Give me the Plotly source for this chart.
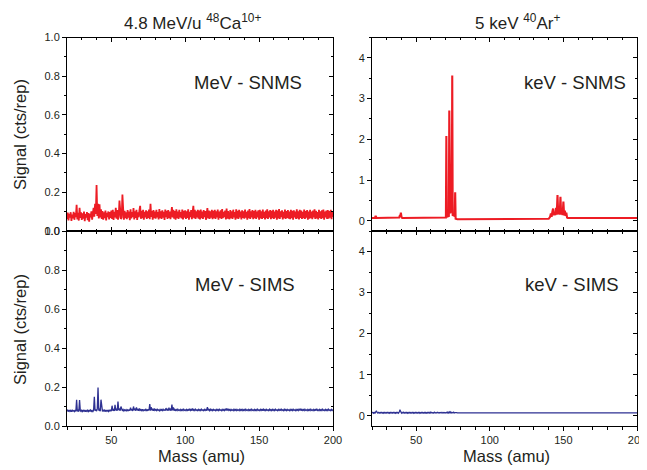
import numpy as np
import plotly.graph_objects as go

# ---------------- data ----------------
# MeV panels: sampled every 0.5 amu starting at 20 amu, values in milli-cts/rep
MASS_START = 20.0
MASS_STEP = 0.5

MEV_SNMS_MILLI = [
    62, 95, 55, 88, 70, 97, 52, 85, 66, 99, 58, 92, 72, 135, 60, 94, 54, 120, 68, 96,
    57, 91, 64, 100, 51, 87, 69, 98, 56, 93, 48, 89, 71, 102, 59, 95, 120, 74, 140, 88,
    238, 78, 140, 65, 138, 70, 112, 62, 103, 58, 97, 66, 106, 55, 94, 72, 101, 60, 98, 68,
    105, 63, 110, 57, 99, 71, 120, 64, 108, 59, 73, 157, 112, 62, 70, 188, 115, 58, 104, 67,
    96, 61, 108, 69, 100, 56, 112, 65, 98, 72, 118, 60, 102, 68, 109, 57, 97, 71, 106, 130,
    63, 104, 66, 110, 59, 99, 70, 107, 62, 101, 68, 111, 61, 140, 73, 103, 58, 108, 67, 100,
    64, 109, 71, 98, 60, 113, 66, 102, 62, 107, 69, 99, 57, 111, 72, 104, 63, 108, 68, 101,
    61, 106, 124, 70, 110, 64, 103, 59, 112, 67, 100, 62, 109, 71, 98, 65, 111, 60, 104, 69,
    107, 63, 102, 68, 112, 58, 99, 72, 108, 61, 103, 130, 66, 110, 62, 101, 70, 109, 64, 105,
    60, 111, 67, 100, 63, 108, 71, 103, 58, 112, 118, 65, 106, 62, 101, 69, 110, 61, 104, 66,
    109, 63, 102, 70, 111, 59, 100, 68, 107, 62, 113, 66, 99, 72, 106, 60, 116, 64, 103, 69,
    61, 108, 67, 101, 63, 110, 70, 98, 59, 112, 65, 104, 62, 109, 71, 100, 60, 107, 68, 102,
    64, 111, 69, 99, 58, 106, 66, 113, 62, 101, 70, 108, 61, 103, 67, 110, 63, 100, 71, 107,
    59, 109, 65, 102, 62, 111, 68, 99, 60, 106, 66, 112, 63, 101, 70, 108, 61, 104, 67, 110,
    62, 100, 69, 109, 59, 105, 65, 113, 63, 102, 71, 107, 60, 99, 66, 111, 62, 103, 68, 108,
    64, 101, 61, 110, 67, 104, 59, 107, 70, 100, 63, 112, 65, 102, 60, 109, 68, 105, 62, 99,
    66, 111, 63, 103, 69, 108, 58, 101, 64, 110, 67, 100, 61, 106, 70, 112, 62, 104, 65, 98,
    60, 109, 68, 102, 63, 107, 66, 111, 59, 100, 71, 105, 62, 108, 64, 103, 69, 110, 61, 101,
    72,
]

MEV_SIMS_MILLI = [
    76, 81, 74, 82, 75, 80, 73, 81, 76, 79, 74, 82, 75, 134, 76, 80, 74, 133, 79, 75,
    81, 74, 80, 76, 82, 73, 79, 75, 81, 74, 80, 76, 82, 75, 79, 74, 81, 150, 78, 85,
    76, 88, 197, 79, 84, 76, 135, 80, 75, 83, 77, 81, 74, 82, 76, 80, 75, 83, 77, 81,
    76, 104, 79, 84, 77, 108, 80, 85, 78, 126, 81, 86, 79, 100, 82, 78, 84, 77, 83, 79,
    84, 78, 83, 77, 85, 79, 94, 80, 84, 78, 100, 81, 86, 79, 95, 80, 85, 78, 90, 80,
    84, 79, 86, 78, 83, 80, 85, 79, 84, 78, 86, 80, 112, 79, 96, 81, 85, 78, 90, 80,
    84, 79, 86, 80, 83, 78, 85, 80, 84, 79, 86, 80, 83, 79, 92, 80, 85, 79, 94, 80,
    86, 79, 110, 80, 96, 79, 85, 80, 84, 79, 86, 80, 83, 79, 85, 80, 84, 79, 86, 80,
    83, 79, 85, 80, 84, 79, 88, 80, 85, 79, 90, 80, 84, 79, 86, 80, 83, 79, 85, 80,
    84, 79, 86, 80, 83, 79, 85, 80, 84, 79, 97, 80, 85, 79, 86, 80, 84, 79, 85, 80,
    83, 79, 85, 80, 84, 79, 86, 80, 83, 79, 85, 80, 84, 79, 86, 80, 90, 79, 89, 80,
    84, 79, 85, 80, 83, 79, 86, 80, 84, 79, 85, 80, 83, 79, 86, 80, 84, 79, 85, 80,
    84, 79, 86, 80, 83, 79, 85, 80, 84, 79, 86, 80, 83, 79, 85, 80, 84, 79, 86, 80,
    83, 79, 85, 80, 87, 79, 86, 80, 84, 79, 85, 80, 83, 79, 86, 80, 84, 79, 85, 80,
    84, 79, 86, 80, 83, 79, 85, 80, 84, 79, 88, 80, 83, 79, 86, 80, 84, 79, 85, 80,
    83, 79, 85, 80, 84, 79, 86, 80, 83, 79, 85, 80, 84, 79, 86, 80, 89, 79, 85, 80,
    84, 79, 86, 80, 83, 79, 85, 80, 84, 79, 86, 80, 83, 79, 85, 80, 84, 79, 88, 80,
    83, 79, 85, 80, 84, 79, 86, 80, 83, 79, 85, 80, 84, 79, 86, 80, 83, 79, 85, 80,
    84,
]

# keV SNMS: (mass, cts/rep) points of the spectrum
KEV_SNMS_MASS = [
    20, 22.0, 22.5, 23.0, 38.5, 39.0, 39.3, 39.6, 40.0, 40.5,
    70.2, 70.5, 70.8, 72.2, 72.5, 72.8, 73.2, 73.5, 73.8, 74.2, 74.5, 74.8, 76.2, 76.5, 76.8, 78,
    140, 141, 141.5, 142, 142.5, 143, 143.5, 144, 144.5, 145, 145.5, 146, 146.5, 147,
    147.5, 148, 148.5, 149, 149.5, 150, 150.5, 151, 151.5, 152, 152.5, 153, 200,
]
KEV_SNMS_SIGNAL = [
    0.07, 0.07, 0.12, 0.07, 0.08, 0.14, 0.09, 0.20, 0.10, 0.07,
    0.08, 2.08, 0.10, 0.12, 2.71, 0.20, 0.18, 0.80, 0.20, 0.20, 3.57, 0.14, 0.12, 0.70, 0.05, 0.04,
    0.05, 0.10, 0.18, 0.10, 0.22, 0.30, 0.14, 0.20, 0.14, 0.32, 0.15, 0.63, 0.16, 0.35,
    0.15, 0.59, 0.15, 0.30, 0.14, 0.47, 0.13, 0.25, 0.12, 0.20, 0.08, 0.07, 0.07,
]

# keV SIMS: dense part 20..78 amu every 0.5 amu (milli-cts/rep), then sparse points
KEV_SIMS_DENSE_MILLI = [
    64, 82, 61, 83, 63, 81, 120, 80, 62, 82, 63, 81, 62, 83, 64, 80, 61, 82, 63, 81,
    62, 83, 64, 80, 61, 82, 63, 81, 62, 83, 64, 80, 61, 82, 63, 81, 62, 90, 150, 100,
    64, 82, 63, 84, 62, 81, 64, 83, 61, 82, 63, 80, 62, 83, 64, 81, 61, 82, 63, 80,
    62, 83, 64, 81, 61, 82, 63, 80, 62, 83, 64, 81, 61, 82, 63, 80, 62, 83, 64, 88,
    63, 81, 65, 80, 64, 86, 66, 79, 65, 81, 66, 80, 67, 79, 66, 81, 65, 80, 67, 79,
    66, 81, 65, 90, 67, 96, 66, 93, 68, 79, 67, 88, 69, 78, 68, 77,
    70,
]
KEV_SIMS_TAIL_MASS = [
    80, 90.5, 91, 91.5, 144.5, 145, 145.5, 146, 146.5, 148, 148.5, 149,
    159.5, 160, 160.5, 161.5, 162, 163.5, 164, 165, 165.5, 171.5, 172, 172.5, 200,
]
KEV_SIMS_TAIL_MILLI = [
    70, 70, 84, 70, 70, 84, 66, 84, 70, 70, 84, 70,
    70, 84, 68, 84, 70, 84, 68, 84, 70, 70, 84, 70, 70,
]

MASS_RANGE = [20, 200]
MEV_RANGE = [0, 1.0]
KEV_RANGE = [-0.25, 4.5]

# ---------------- style / geometry ----------------
FONT = "Liberation Sans, Arial, Helvetica, sans-serif"
TXT = "#231f20"
RED = "#ed1c24"
BLUE = "#2e3192"
PAGE_OFFSET = 8          # default body margin of the html page
W, H = 646, 470 - PAGE_OFFSET


def fx(p):
    return (p - PAGE_OFFSET) / W


def fy(p):
    return 1 - (p - PAGE_OFFSET) / H


XDOM_L = [fx(67), fx(333)]
XDOM_R = [fx(372), fx(637)]
YDOM_T = [fy(231), fy(37.5)]
YDOM_B = [fy(426), fy(231)]


def sample_mass(n):
    return MASS_START + MASS_STEP * np.arange(n)


mev_snms_mass = sample_mass(len(MEV_SNMS_MILLI))
mev_sims_mass = sample_mass(len(MEV_SIMS_MILLI))
kev_sims_mass = list(sample_mass(len(KEV_SIMS_DENSE_MILLI))) + KEV_SIMS_TAIL_MASS
kev_sims_sig = [v / 1000 for v in KEV_SIMS_DENSE_MILLI + KEV_SIMS_TAIL_MILLI]

fig = go.Figure()
fig.add_trace(go.Scatter(x=mev_snms_mass, y=np.array(MEV_SNMS_MILLI) / 1000,
                         mode="lines", line=dict(color=RED, width=1.8),
                         xaxis="x", yaxis="y", showlegend=False))
fig.add_trace(go.Scatter(x=KEV_SNMS_MASS, y=KEV_SNMS_SIGNAL,
                         mode="lines", line=dict(color=RED, width=2.1),
                         xaxis="x2", yaxis="y2", showlegend=False))
fig.add_trace(go.Scatter(x=mev_sims_mass, y=np.array(MEV_SIMS_MILLI) / 1000,
                         mode="lines", line=dict(color=BLUE, width=1.3),
                         xaxis="x3", yaxis="y3", showlegend=False))
fig.add_trace(go.Scatter(x=kev_sims_mass, y=kev_sims_sig,
                         mode="lines", line=dict(color=BLUE, width=1.2),
                         xaxis="x4", yaxis="y4", showlegend=False))

# dummy traces for the mirrored (inside-tick) axes
for k in range(5, 9):
    fig.add_trace(go.Scatter(x=[MASS_RANGE[0]], y=[0], mode="markers",
                             marker=dict(opacity=0), hoverinfo="skip",
                             xaxis=f"x{k}", yaxis=f"y{k}", showlegend=False))

tickfont = dict(family=FONT, size=11, color=TXT)


def xmain(domain, anchor, labels, tdir):
    return dict(domain=domain, anchor=anchor, range=MASS_RANGE, tickmode="linear",
                tick0=0, dtick=50, ticks=tdir, ticklen=4, tickwidth=1, tickcolor="black",
                showline=True, linecolor="black", linewidth=1, mirror=True,
                showgrid=False, zeroline=False, showticklabels=labels,
                tickfont=tickfont, automargin=False,
                minor=dict(tick0=0, dtick=10, ticks=tdir, ticklen=2.5,
                           tickcolor="black", showgrid=False))


def ymain(domain, anchor, rng, dtick, minor, fmt):
    return dict(domain=domain, anchor=anchor, range=rng, tickmode="linear",
                tick0=0, dtick=dtick, ticks="outside", ticklen=4, tickwidth=1,
                tickcolor="black", showline=True, linecolor="black", linewidth=1,
                mirror=True, showgrid=False, zeroline=False, tickformat=fmt,
                tickfont=tickfont, automargin=False,
                minor=dict(tick0=0, dtick=minor, ticks="outside", ticklen=2.5,
                           tickcolor="black", showgrid=False))


def xover(k, over):
    return dict(overlaying=over, side="top", anchor=f"y{k}", range=MASS_RANGE,
                tickmode="linear", tick0=0, dtick=50, ticks="inside", ticklen=4,
                tickcolor="black", showline=False, showgrid=False, zeroline=False,
                showticklabels=False, automargin=False,
                minor=dict(tick0=0, dtick=10, ticks="inside", ticklen=2.5,
                           tickcolor="black", showgrid=False))


def yover(k, over, rng, dtick, minor):
    return dict(overlaying=over, side="right", anchor=f"x{k}", range=rng,
                tickmode="linear", tick0=0, dtick=dtick, ticks="inside", ticklen=4,
                tickcolor="black", showline=False, showgrid=False, zeroline=False,
                showticklabels=False, automargin=False,
                minor=dict(tick0=0, dtick=minor, ticks="inside", ticklen=2.5,
                           tickcolor="black", showgrid=False))


layout = dict(
    width=W, height=H, margin=dict(l=0, r=0, t=0, b=0, pad=0),
    paper_bgcolor="white", plot_bgcolor="rgba(0,0,0,0)", template="none",
    showlegend=False,
    xaxis=xmain(XDOM_L, "y", False, "inside"),
    xaxis2=xmain(XDOM_R, "y2", False, "inside"),
    xaxis3=xmain(XDOM_L, "y3", True, "outside"),
    xaxis4=xmain(XDOM_R, "y4", True, "outside"),
    yaxis=ymain(YDOM_T, "x", MEV_RANGE, 0.2, 0.1, ".1f"),
    yaxis2=ymain(YDOM_T, "x2", KEV_RANGE, 1, 0.5, "d"),
    yaxis3=ymain(YDOM_B, "x3", MEV_RANGE, 0.2, 0.1, ".1f"),
    yaxis4=ymain(YDOM_B, "x4", KEV_RANGE, 1, 0.5, "d"),
    xaxis5=xover(5, "x"), yaxis5=yover(5, "y", MEV_RANGE, 0.2, 0.1),
    xaxis6=xover(6, "x2"), yaxis6=yover(6, "y2", KEV_RANGE, 1, 0.5),
    xaxis7=xover(7, "x3"), yaxis7=yover(7, "y3", MEV_RANGE, 0.2, 0.1),
    xaxis8=xover(8, "x4"), yaxis8=yover(8, "y4", KEV_RANGE, 1, 0.5),
)
fig.update_layout(**layout)


def note(text, xp, yp, size, angle=0):
    fig.add_annotation(text=text, x=fx(xp), y=fy(yp), xref="paper", yref="paper",
                       showarrow=False, xanchor="center", yanchor="middle",
                       textangle=angle, font=dict(family=FONT, size=size, color=TXT))


note("4.8 MeV/u <sup>48</sup>Ca<sup>10+</sup>", 192, 22, 17)
note("5 keV <sup>40</sup>Ar<sup>+</sup>", 517, 22, 17)
note("MeV - SNMS", 248, 82, 18.5)
note("keV - SNMS", 575, 82, 18.5)
note("MeV - SIMS", 245, 284, 18.5)
note("keV - SIMS", 572, 284, 18.5)
note("Signal (cts/rep)", 20, 135, 16.5, -90)
note("Signal (cts/rep)", 20, 330, 16.5, -90)
note("Mass (amu)", 201, 456, 16.5)
note("Mass (amu)", 506, 456, 16.5)

fig.write_html("out.html")
